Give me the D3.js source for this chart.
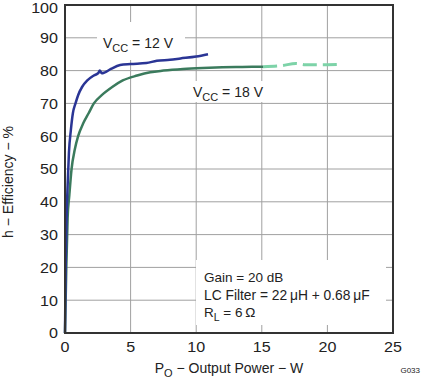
<!DOCTYPE html>
<html>
<head>
<meta charset="utf-8">
<script src="https://cdn.jsdelivr.net/npm/d3@7"></script>
<style>
  body { margin: 0; background: #fff; }
  svg { font-family: "Liberation Sans", Arial, sans-serif; }
  .tick-label { font-size: 14px; fill: #222; }
  .note { font-size: 13.5px; fill: #222; }
</style>
</head>
<body>
<svg id="chart"></svg>
<script>
// ticks
const xTicks = [0, 5, 10, 15, 20, 25];
const yTicks = [0, 10, 20, 30, 40, 50, 60, 70, 80, 90, 100];

// Vcc = 12 V (blue)
const power12 = [0, 0.05, 0.12, 0.2, 0.3, 0.45, 0.6, 0.8, 1.0, 1.3, 1.7, 2.2, 2.55, 2.65, 2.8, 3.0, 3.5, 4.2, 5, 6.2, 7, 8, 8.8, 10, 10.9];
const eff12 = [0, 20, 35, 45, 55, 62, 67, 70, 72.5, 75, 77, 78.5, 79.3, 80, 79.2, 79.4, 80.5, 81.7, 82, 82.3, 83, 83.3, 83.7, 84.3, 85];

// Vcc = 18 V (green, solid part)
const power18 = [0, 0.1, 0.2, 0.33, 0.5, 0.75, 1.0, 1.4, 1.8, 2.2, 2.8, 3.6, 4.4, 5.5, 6.5, 7.5, 9, 10.5, 12, 13.5, 15.1];
const eff18 = [0, 20, 35, 42, 50, 56, 60, 64, 67, 70, 72.5, 75, 77, 78.5, 79.5, 80, 80.5, 80.8, 81, 81.1, 81.2];

// Vcc = 18 V (dashed extension)
const power18b = [15.1, 16.5, 17.6, 18.3, 20, 21.1];
const eff18b = [81.2, 81.5, 82.2, 81.8, 81.8, 81.9];

const width = 421, height = 383;
const margin = {top: 5, right: 28, bottom: 50, left: 65};
const w = width - margin.left - margin.right;
const h = height - margin.top - margin.bottom;

const svg = d3.select('#chart')
    .attr('width', width)
    .attr('height', height);

const chart = svg.append('g')
    .attr('transform', `translate(${margin.left},${margin.top})`);

const x = d3.scaleLinear().domain([0, 25]).range([0, w]);
const y = d3.scaleLinear().domain([0, 100]).range([h, 0]);

// grid
chart.append('g')
  .selectAll('line')
  .data(xTicks.slice(1, -1))
  .join('line')
    .attr('x1', d => x(d)).attr('x2', d => x(d))
    .attr('y1', 0).attr('y2', h)
    .attr('stroke', '#a0a0a0').attr('stroke-width', 1);

chart.append('g')
  .selectAll('line')
  .data(yTicks.slice(1, -1))
  .join('line')
    .attr('x1', 0).attr('x2', w)
    .attr('y1', d => y(d)).attr('y2', d => y(d))
    .attr('stroke', '#a0a0a0').attr('stroke-width', 1);

// white boxes behind the notes (they cut the grid)
function box(x0, y0, bw, bh) {
  chart.append('rect')
      .attr('x', x0 - margin.left).attr('y', y0 - margin.top)
      .attr('width', bw).attr('height', bh)
      .attr('fill', '#fff');
}
box(97, 22, 88, 38);
box(190, 81, 86, 21);
box(196, 260, 190, 65);

const line = d3.line()
    .x(d => x(d[0]))
    .y(d => y(d[1]))
    .curve(d3.curveMonotoneX);

chart.append('path')
    .datum(power18b.map((p, i) => [p, eff18b[i]]))
    .attr('d', line)
    .attr('fill', 'none')
    .attr('stroke', '#7dd3a8')
    .attr('stroke-width', 3)
    .attr('stroke-dasharray', '14,6');

chart.append('path')
    .datum(power18.map((p, i) => [p, eff18[i]]))
    .attr('d', line)
    .attr('fill', 'none')
    .attr('stroke', '#3b7b5d')
    .attr('stroke-width', 2.5);

chart.append('path')
    .datum(power12.map((p, i) => [p, eff12[i]]))
    .attr('d', line)
    .attr('fill', 'none')
    .attr('stroke', '#2a3595')
    .attr('stroke-width', 2.5);

// frame
chart.append('rect')
    .attr('width', w).attr('height', h)
    .attr('fill', 'none')
    .attr('stroke', '#333')
    .attr('stroke-width', 2);

// tick labels (the source font is a bit wider than Arial)
// top label nudged down a little so it stays inside the page
chart.append('g')
  .selectAll('text')
  .data(yTicks)
  .join('text')
    .attr('class', 'tick-label')
    .attr('transform', d => `translate(-7,${Math.max(y(d), 2.5)}) scale(1.15,1)`)
    .attr('dy', '0.38em')
    .attr('text-anchor', 'end')
    .text(d => d);

chart.append('g')
  .selectAll('text')
  .data(xTicks)
  .join('text')
    .attr('class', 'tick-label')
    .attr('transform', d => `translate(${x(d)},${h + 19}) scale(1.15,1)`)
    .attr('text-anchor', 'middle')
    .text(d => d);

// axis titles
const xt = svg.append('text')
    .attr('class', 'note')
    .attr('x', 229).attr('y', 373)
    .attr('text-anchor', 'middle')
    .style('font-size', '14px');
xt.append('tspan').text('P');
xt.append('tspan').attr('dy', 4).style('font-size', '11px').text('O');
xt.append('tspan').attr('dy', -4).text(' \u2212 Output Power \u2212 W');

svg.append('text')
    .attr('class', 'note')
    .attr('transform', 'translate(13,182) rotate(-90)')
    .attr('text-anchor', 'middle')
    .style('font-size', '14px')
    .text('h \u2212 Efficiency \u2212 %');

// series labels
function vccLabel(px, py, txt) {
  const t = svg.append('text').attr('class', 'note').attr('x', px).attr('y', py)
      .style('font-size', '14px');
  t.append('tspan').text('V');
  t.append('tspan').attr('dy', 4).style('font-size', '11px').text('CC');
  t.append('tspan').attr('dy', -4).text(txt);
}
vccLabel(103, 48, ' = 12 V');
vccLabel(193, 97, ' = 18 V');

// conditions
svg.append('text').attr('class', 'note').attr('x', 204).attr('y', 282).text('Gain = 20 dB');
svg.append('text').attr('class', 'note').attr('x', 204).attr('y', 300)
    .style('font-size', '13.8px')
    .text('LC Filter = 22\u2009\u03bcH + 0.68\u2009\u03bcF');
const rl = svg.append('text').attr('class', 'note').attr('x', 204).attr('y', 317);
rl.append('tspan').text('R');
rl.append('tspan').attr('dy', 4).style('font-size', '10.5px').text('L');
rl.append('tspan').attr('dy', -4).text(' = 6\u2009\u03a9');

svg.append('text')
    .attr('x', 420).attr('y', 373)
    .attr('text-anchor', 'end')
    .style('font-size', '8px')
    .attr('fill', '#222')
    .text('G033');
</script>
</body>
</html>
